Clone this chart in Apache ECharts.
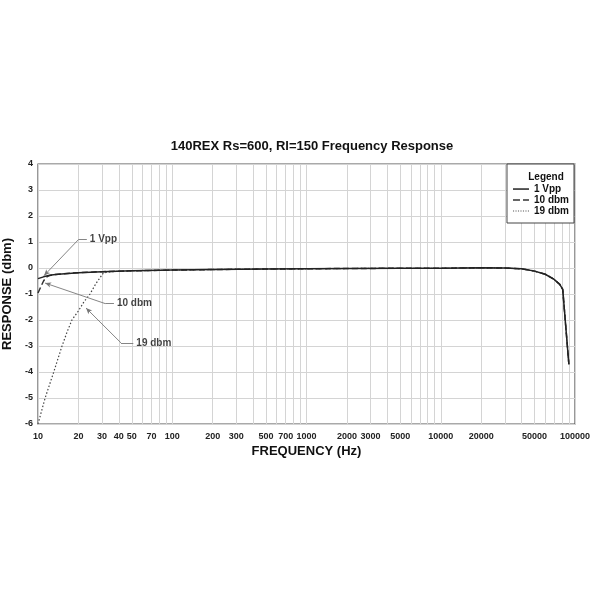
<!DOCTYPE html>
<html>
<head>
<meta charset="utf-8">
<script src="https://cdn.jsdelivr.net/npm/echarts@6/dist/echarts.min.js"></script>
<style>html,body{margin:0;padding:0;background:#fff}#c{width:600px;height:600px}</style>
</head>
<body>
<div id="c"></div>
<script>
// ---- data ----
const seriesNames = ['1 Vpp', '10 dbm', '19 dbm'];

const freq1Vpp = [10, 11, 12, 13, 15, 20, 30, 50, 100, 200, 500, 1000, 2000, 5000, 10000, 20000, 30000, 40000, 50000, 60000, 70000, 77000, 81000, 90000];
const resp1Vpp = [-0.41, -0.34, -0.29, -0.26, -0.23, -0.18, -0.14, -0.11, -0.08, -0.06, -0.04, -0.03, -0.02, -0.01, -0.01, 0.01, 0.0, -0.03, -0.12, -0.24, -0.44, -0.63, -0.82, -3.7];

const freq10dbm = [10, 10.5, 11, 11.5, 12, 13, 15, 20, 30, 50, 100, 200, 500, 1000, 2000, 5000, 10000, 20000, 30000, 40000, 50000, 60000, 70000, 77000, 81000, 90000];
const resp10dbm = [-0.96, -0.72, -0.5, -0.36, -0.3, -0.26, -0.23, -0.18, -0.14, -0.11, -0.08, -0.06, -0.04, -0.03, -0.02, -0.01, -0.01, 0.01, 0.0, -0.03, -0.12, -0.24, -0.44, -0.63, -0.82, -3.7];

const freq19dbm = [10, 11.3, 13.1, 15.1, 16.5, 17.9, 20, 22, 24.4, 27, 30.6, 33, 40, 50, 100, 200, 500, 1000, 2000, 5000, 10000, 20000, 30000, 40000, 50000, 60000, 70000, 77000, 81000, 90000];
const resp19dbm = [-6.0, -5.0, -4.0, -3.0, -2.45, -2.0, -1.65, -1.3, -1.0, -0.6, -0.2, -0.15, -0.13, -0.11, -0.08, -0.06, -0.04, -0.03, -0.02, -0.01, -0.01, 0.01, 0.0, -0.03, -0.12, -0.24, -0.44, -0.63, -0.82, -3.7];

// annotations: label anchor, elbow, arrow tip (data coordinates)
const annoText  = ['1 Vpp', '10 dbm', '19 dbm'];
const annoStart = [[23.1, 1.09], [36.8, -1.37], [51.3, -2.88]];
const annoElbow = [[20, 1.09], [31.7, -1.37], [41.5, -2.88]];
const annoTip   = [[11.1, -0.29], [11.3, -0.58], [22.8, -1.54]];

// ticks
const xGridValues = [10,20,30,40,50,60,70,80,90,100,200,300,400,500,600,700,800,900,1000,2000,3000,4000,5000,6000,7000,8000,9000,10000,20000,30000,40000,50000,60000,70000,80000,90000,100000];
const xLabelValues = [10,20,30,40,50,70,100,200,300,500,700,1000,2000,3000,5000,10000,20000,50000,100000];
const yMin = -6, yMax = 4, yStep = 1;

// ---- chart ----
const zip = (xs, ys) => xs.map((x, i) => [x, ys[i]]);
const font = '"Liberation Sans", Arial, sans-serif';

// legend icons (line samples drawn in a 16x10 box)
const iconSolid  = 'path://M0,0M16,10M0,4.3h16v1.5h-16z';
const iconDashed = 'path://M0,0M16,10M0,4.3h7v1.5h-7zM10,4.3h6v1.5h-6z';
let dots = 'path://M0,0M16,10';
for (let x = 0; x < 16; x += 2.5) dots += 'M' + x + ',4.5h1.1v1.1h-1.1z';
const iconDotted = dots;
const legendIcons = [iconSolid, iconDashed, iconDotted];

const annoSegments = [];
annoText.forEach((t, i) => {
  annoSegments.push([{coord: annoStart[i], symbol: 'none'}, {coord: annoElbow[i], symbol: 'none'}]);
  annoSegments.push([{coord: annoElbow[i], symbol: 'none'}, {coord: annoTip[i], symbol: 'arrow', symbolSize: [4, 6]}]);
});

const chart = echarts.init(document.getElementById('c'), null, {renderer: 'canvas'});
chart.setOption({
  animation: false,
  backgroundColor: '#fff',
  textStyle: {fontFamily: font},
  title: [{
    text: '140REX Rs=600, Rl=150 Frequency Response',
    left: 307, top: 135, textAlign: 'center',
    textStyle: {fontFamily: font, fontSize: 13, fontWeight: 'bold', color: '#111'}
  }, {
    text: 'Legend',
    left: 541, top: 167, textAlign: 'center',
    textStyle: {fontFamily: font, fontSize: 10, fontWeight: 'bold', color: '#111'}
  }],
  grid: {left: 38, right: 25, top: 164, bottom: 176, containLabel: false, outerBoundsMode: 'none',
         show: true, borderColor: '#555', borderWidth: 1.2, backgroundColor: 'transparent'},
  legend: {
    data: seriesNames.map((n, i) => ({name: n, icon: legendIcons[i]})),
    orient: 'vertical',
    right: 26, top: 164,
    padding: [20, 5, 7, 6],
    itemGap: 1,
    itemWidth: 16, itemHeight: 10,
    backgroundColor: '#fff',
    borderColor: '#444', borderWidth: 1,
    textStyle: {fontFamily: font, fontSize: 10, fontWeight: 'bold', color: '#111'}
  },
  xAxis: {
    type: 'log', logBase: 10, min: 10, max: 100000,
    name: 'FREQUENCY (Hz)', nameLocation: 'middle', nameGap: 21,
    nameTextStyle: {fontFamily: font, fontSize: 13, fontWeight: 'bold', color: '#111'},
    axisLine: {show: false},
    axisTick: {show: false, customValues: xGridValues},
    axisLabel: {customValues: xLabelValues, formatter: v => String(v), fontFamily: font, fontSize: 9, fontWeight: 'bold', color: '#222', margin: 8, hideOverlap: false},
    splitLine: {show: true, lineStyle: {color: '#d4d4d4', width: 1}}
  },
  yAxis: {
    type: 'value', min: yMin, max: yMax, interval: yStep,
    name: 'RESPONSE (dbm)', nameLocation: 'middle', nameGap: 19,
    nameTextStyle: {fontFamily: font, fontSize: 13, fontWeight: 'bold', color: '#111'},
    axisLine: {show: false},
    axisTick: {show: false},
    axisLabel: {fontFamily: font, fontSize: 9, fontWeight: 'bold', color: '#222', margin: 5},
    splitLine: {show: true, lineStyle: {color: '#d4d4d4', width: 1}}
  },
  series: [
    {
      name: '1 Vpp', type: 'line', data: zip(freq1Vpp, resp1Vpp),
      showSymbol: false, symbol: 'none', z: 5,
      lineStyle: {color: '#222', width: 1.5, type: 'solid'}, itemStyle: {color: '#222'}
    },
    {
      name: '10 dbm', type: 'line', data: zip(freq10dbm, resp10dbm),
      showSymbol: false, symbol: 'none', z: 4,
      lineStyle: {color: '#333', width: 1.5, type: [6, 3]}, itemStyle: {color: '#333'}
    },
    {
      name: '19 dbm', type: 'line', data: zip(freq19dbm, resp19dbm),
      showSymbol: false, symbol: 'none', z: 3,
      lineStyle: {color: '#444', width: 1.2, type: [1.5, 2]}, itemStyle: {color: '#555'}
    },
    {
      name: 'annotations', type: 'scatter', symbolSize: 0, silent: true, z: 6,
      data: annoStart.map((p, i) => ({value: p, name: annoText[i]})),
      label: {show: true, position: 'right', distance: 3, formatter: p => p.name,
              fontFamily: font, fontSize: 10, fontWeight: 'bold', color: '#111'},
      markLine: {
        silent: true, animation: false,
        label: {show: false},
        lineStyle: {color: '#777', width: 0.9, type: 'solid'},
        itemStyle: {color: '#222'},
        data: annoSegments
      }
    }
  ]
});
</script>
</body>
</html>
